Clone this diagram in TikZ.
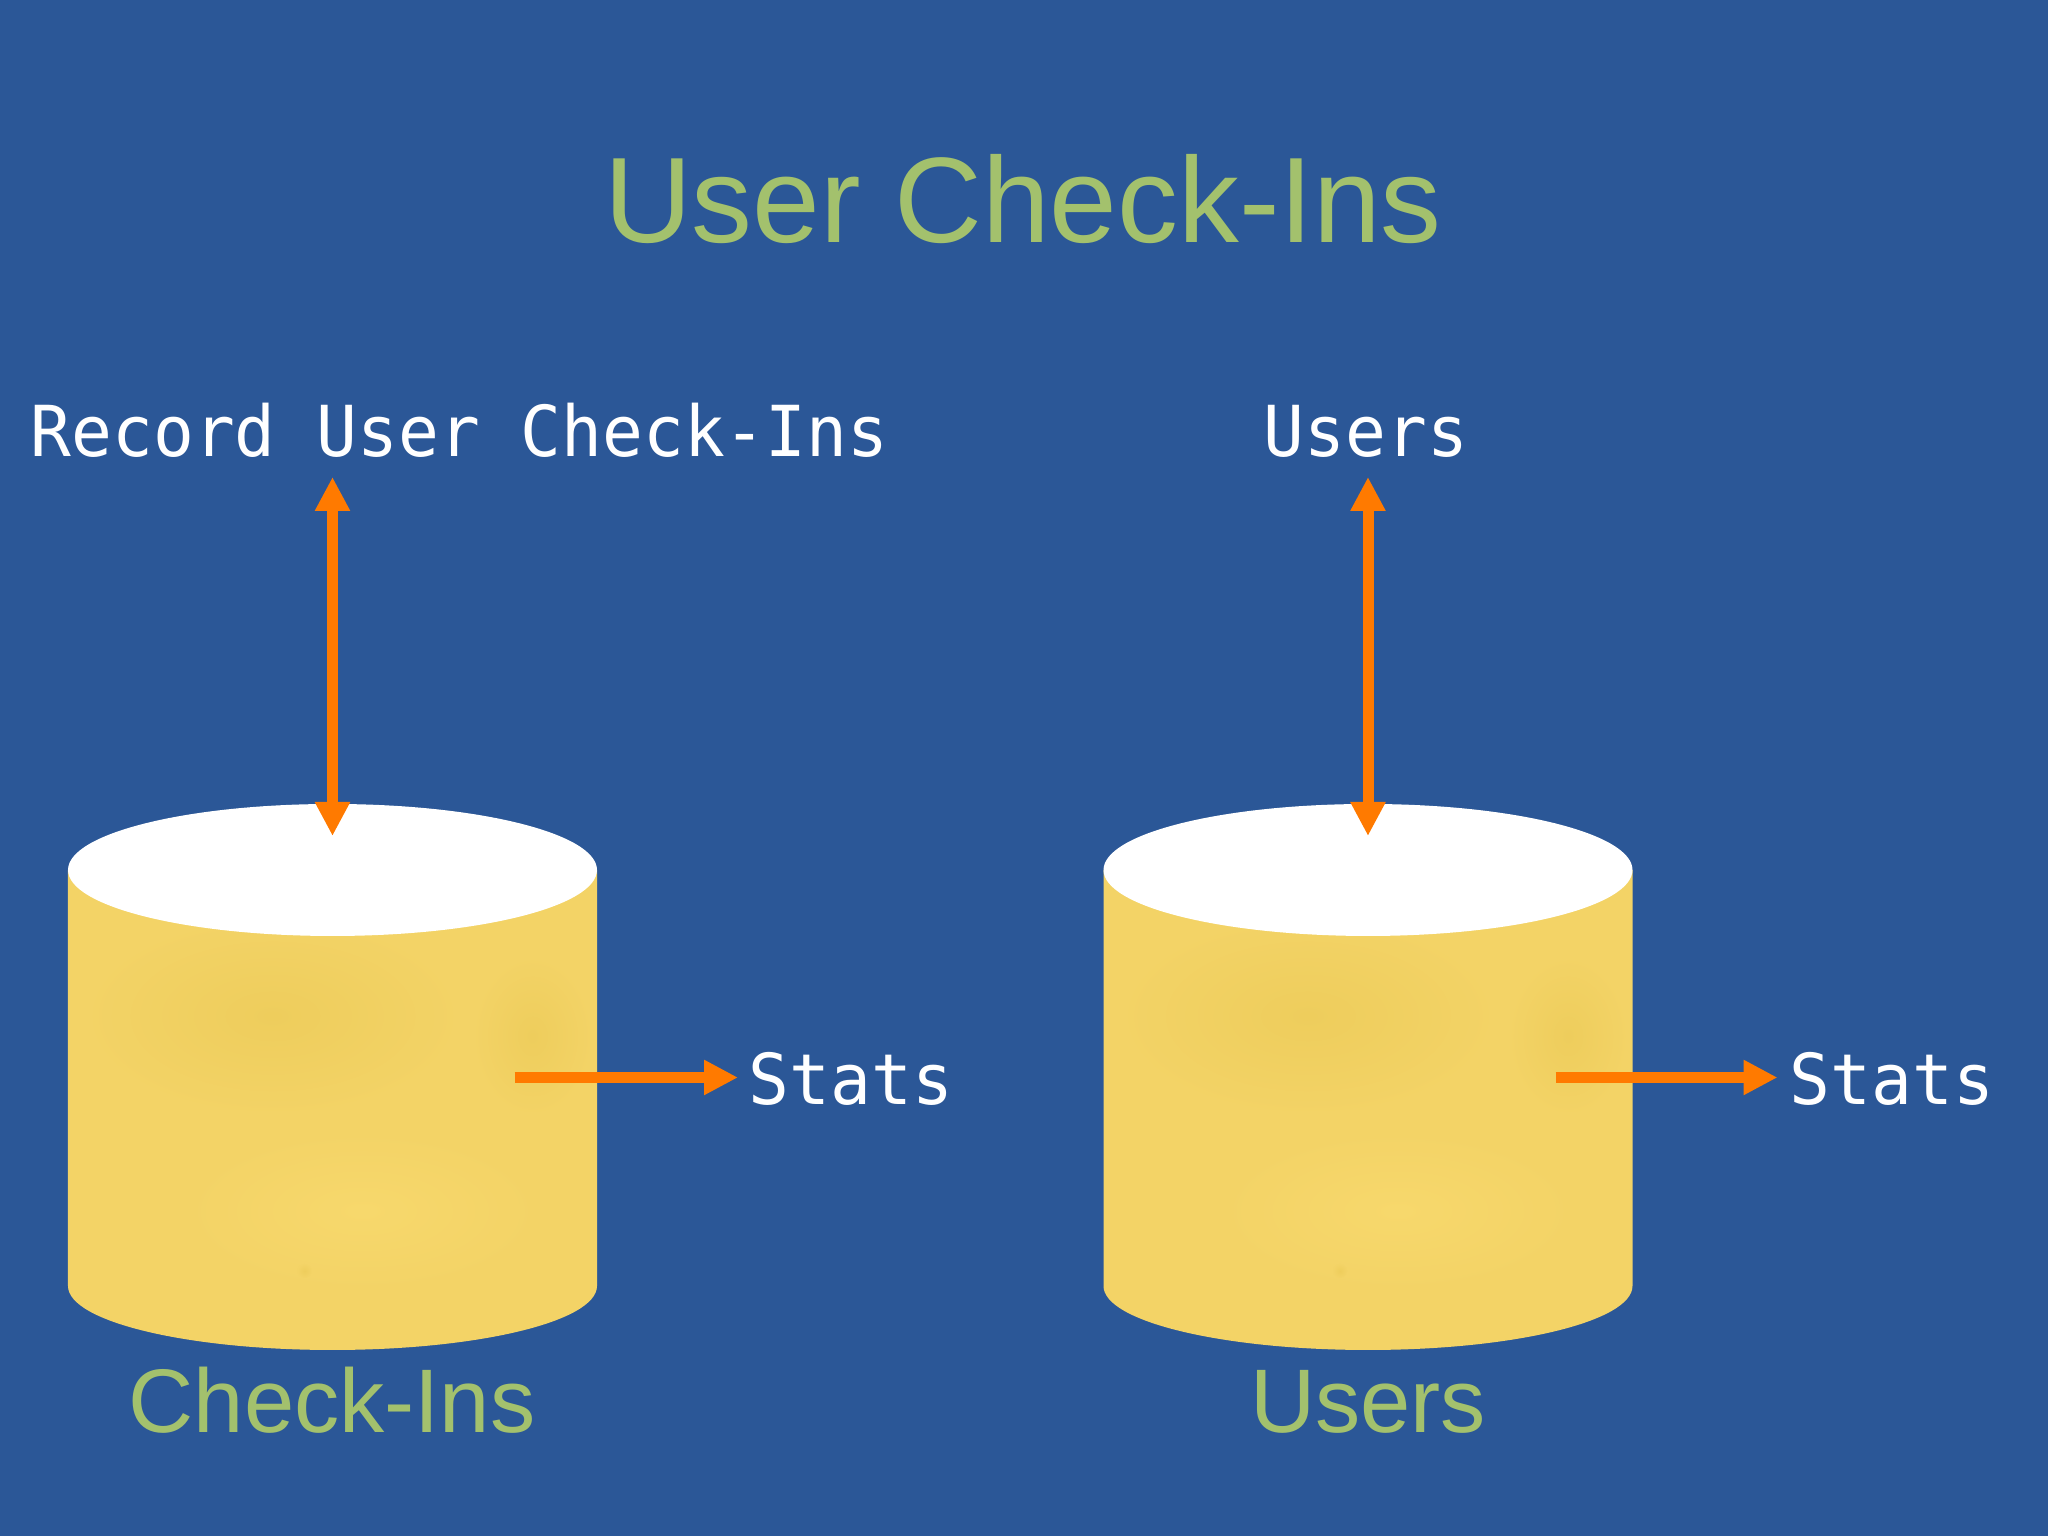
\documentclass[tikz,border=0pt]{standalone}
\usepackage{fontspec}
\setmainfont{Liberation Sans}
\newfontfamily\termfont[FakeStretch=0.965]{DejaVu Sans Mono}
\usetikzlibrary{arrows.meta}
\definecolor{slidebg}{HTML}{2B5797}
\definecolor{titlegreen}{HTML}{A3C16D}
\definecolor{flowline}{HTML}{FF7A00}
\definecolor{dbbody}{HTML}{F3D366}
\definecolor{dbdark}{HTML}{EECD5C}
\definecolor{dblight}{HTML}{F7D86C}
\tikzset{
  flow/.style={line width=1.1mm,flowline},
  term/.style={text=white,inner sep=0pt,anchor=base west,font=\termfont\fontsize{20}{24}\selectfont},
  caption/.style={text=titlegreen,inner sep=0pt,anchor=base,font=\fontsize{25.7}{30}\selectfont},
}
\begin{document}
\begin{tikzpicture}[>={Triangle[length=3.4mm,width=3.3mm]}]
  \useasboundingbox (0,0) rectangle (20.48,15.36);
  \fill[slidebg] (0,0) rectangle (20.48,15.36);
  % title
  \node[caption,font=\fontsize{34.6}{40}\selectfont] (title) at (10.23,12.93) {User Check-Ins};
  % stores
  \foreach \cx in {3.325,13.68} {
    \fill[dbbody] (\cx-2.645,6.66) -- (\cx-2.645,2.50) arc (180:360:2.645 and 0.64) -- (\cx+2.645,6.66) -- cycle;
    % stains
    \shade[inner color=dbdark,outer color=dbbody] (\cx-0.6,5.2) ellipse (1.9 and 1.0);
    \shade[inner color=dblight,outer color=dbbody] (\cx+0.3,3.25) ellipse (1.8 and 0.8);
    \shade[inner color=dbdark,outer color=dbbody] (\cx+2.0,5.0) ellipse (0.6 and 0.8);
    \shade[inner color=dbdark,outer color=dbbody] (\cx-0.28,2.65) ellipse (0.07 and 0.07);
    \fill[white] (\cx,6.66) ellipse (2.645 and 0.66);
  }
  \node[caption] (checkinscap) at (3.32,1.03) {Check-Ins};
  \node[caption] (userscap) at (13.68,1.03) {Users};
  % labels
  \node[term] (record) at (0.30,10.79) {Record User Check-Ins};
  \node[term,anchor=base] (userstop) at (13.66,10.79) {Users};
  \node[term] (statsa) at (7.48,4.31) {Stats};
  \node[term] (statsb) at (17.89,4.31) {Stats};
  % free ends
  \coordinate (recordend) at (3.325,10.59);
  \coordinate (checkinsin) at (3.325,7.00);
  \coordinate (usersend) at (13.68,10.59);
  \coordinate (usersin) at (13.68,7.00);
  \coordinate (checkinsout) at (5.145,4.585);
  \coordinate (usersout) at (15.555,4.585);
  \coordinate (statsaend) at (7.38,4.585);
  \coordinate (statsbend) at (17.775,4.585);
  % flows
  \draw[flow,<->] (recordend) -- (checkinsin);
  \draw[flow,<->] (usersend) -- (usersin);
  \draw[flow,->] (checkinsout) -- (statsaend);
  \draw[flow,->] (usersout) -- (statsbend);
\end{tikzpicture}
\end{document}
